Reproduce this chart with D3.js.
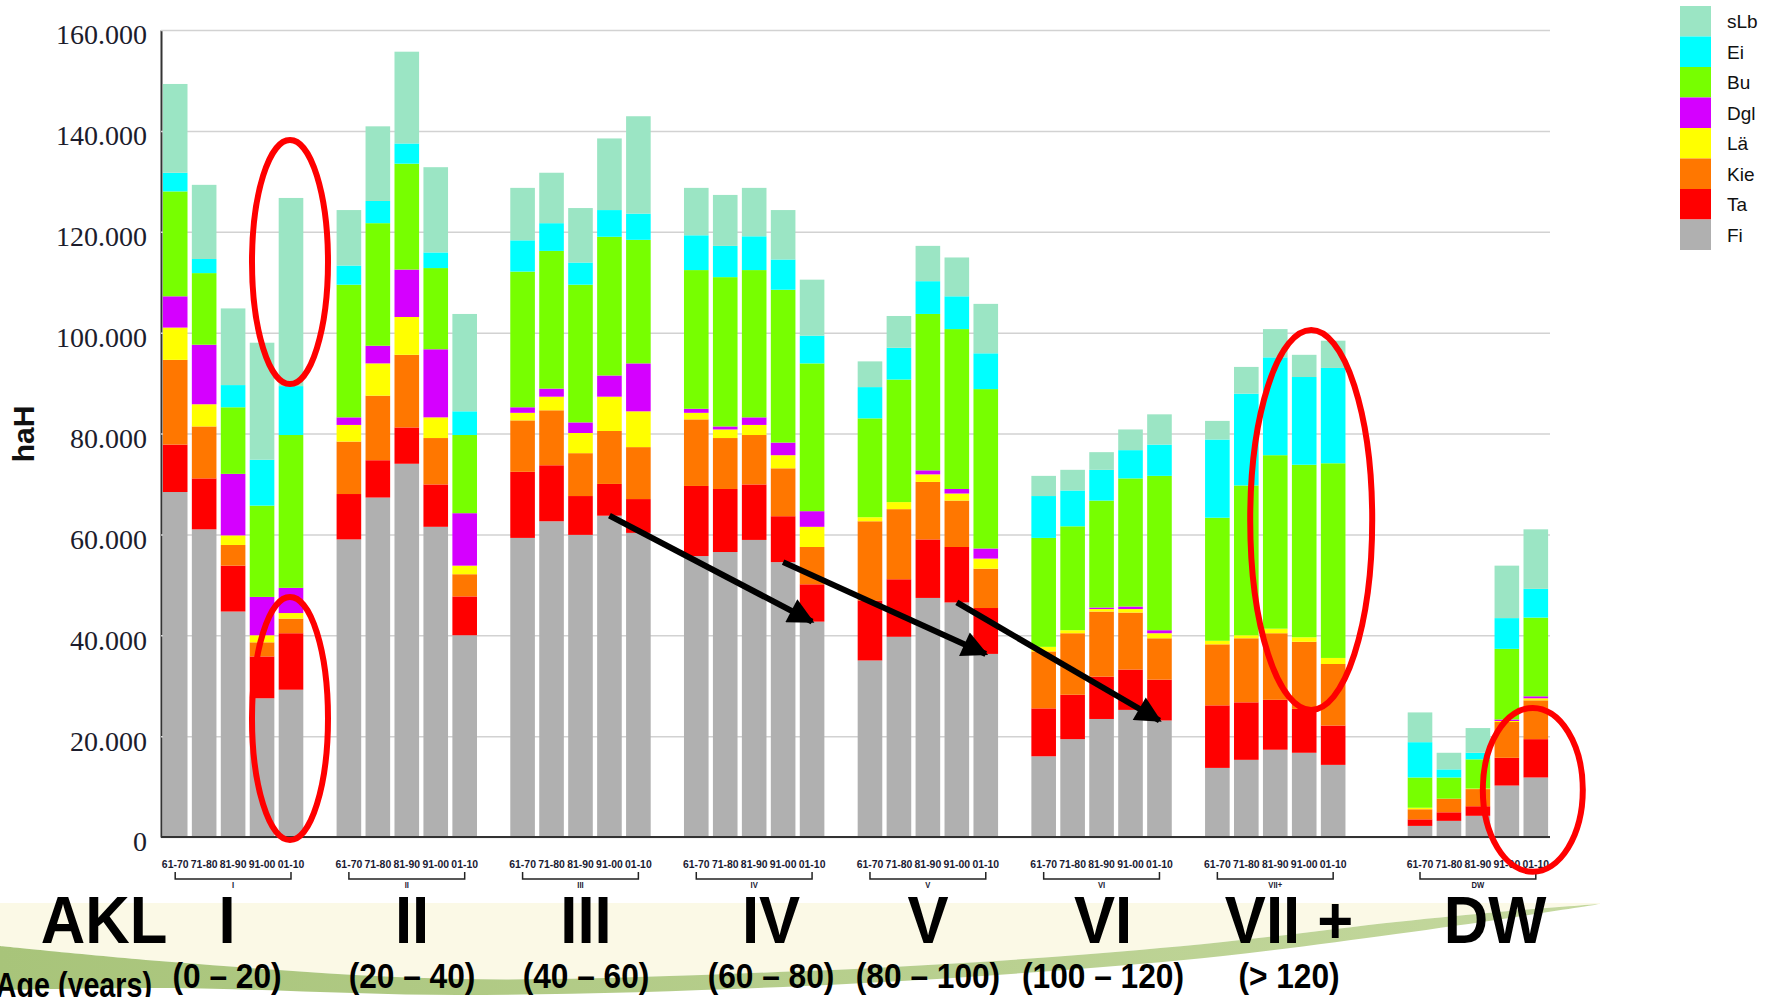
<!DOCTYPE html>
<html lang="de">
<head>
<meta charset="utf-8">
<script src="https://d3js.org/d3.v7.min.js"></script>
<style>
  body { margin: 0; background: #fff; }
  svg { display: block; }
  .narrow { font-family: "Liberation Sans", Arial, sans-serif; font-weight: bold; }
</style>
<title>AKL Baumarten</title>
</head>
<body>
<script>
// Altersklassen, Zeiträume, Baumarten
var classes = ["I", "II", "III", "IV", "V", "VI", "VII+", "DW"];
var periods = ["61-70", "71-80", "81-90", "91-00", "01-10"];
var species = ["Fi", "Ta", "Kie", "Lä", "Dgl", "Bu", "Ei", "sLb"];
var colors  = ["#b0b0b0", "#ff0000", "#ff7700", "#ffff00", "#d500ff", "#77ff00", "#00ffff", "#9be5c4"];

// Fläche in 1000 ha, je Altersklasse 5 Zeiträume (61-70 ... 01-10)
var fi  = [68.4, 61.0, 44.7, 27.5, 29.2,  59.0, 67.3, 74.0, 61.5, 40.0,  59.3, 62.6, 59.9, 63.7, 60.3,  55.7, 56.5, 58.9, 54.5, 42.7,
           35.0, 39.7, 47.4, 46.5, 36.3,  16.0, 19.4, 23.4, 25.2, 23.1,  13.7, 15.3, 17.3, 16.7, 14.3,   2.2,  3.2,  4.2, 10.2, 11.8];
var ta  = [ 9.4, 10.1,  9.1,  8.3, 11.2,   9.0,  7.4,  7.2,  8.4,  7.7,  13.1, 11.1,  7.7,  6.3,  6.7,  13.9, 12.5, 11.0,  9.1,  7.4,
           11.9, 11.4, 11.6, 11.0,  9.1,   9.5,  8.8,  8.4,  8.0,  8.1,  12.4, 11.4,  9.9,  8.7,  7.8,   1.3,  1.7,  1.9,  5.5,  7.6];
var kie = [16.8, 10.3,  4.1,  2.8,  2.9,  10.4, 12.8, 14.4,  9.2,  4.4,  10.2, 10.9,  8.5, 10.5, 10.3,  13.2, 10.1,  9.8,  9.5,  7.4,
           15.7, 13.9, 11.4,  9.2,  7.8,  11.3, 12.2, 12.9, 11.3,  8.2,  12.1, 12.7, 13.2, 13.3, 12.2,   2.0,  2.7,  3.4,  7.1,  7.7];
var lae = [ 6.4,  4.4,  1.9,  1.4,  1.1,   3.3,  6.4,  7.5,  4.1,  1.7,   1.5,  2.7,  4.0,  6.8,  7.1,   1.3,  1.7,  2.0,  2.6,  4.0,
            0.8,  1.4,  1.5,  1.4,  2.0,   0.9,  0.6,  0.5,  0.7,  1.0,   0.7,  0.6,  0.9,  0.9,  1.2,   0.3,  0.0,  0.1,  0.2,  0.4];
var dgl = [ 6.2, 11.8, 12.2,  7.6,  5.0,   1.5,  3.5,  9.4, 13.5, 10.4,   1.1,  1.6,  2.1,  4.2,  9.5,   0.8,  0.6,  1.5,  2.5,  3.1,
            0.0,  0.0,  0.8,  0.9,  2.0,   0.0,  0.0,  0.3,  0.5,  0.6,   0.0,  0.0,  0.0,  0.0,  0.0,   0.0,  0.0,  0.0,  0.3,  0.4];
var bu  = [20.8, 14.2, 13.2, 18.1, 30.3,  26.3, 24.3, 21.0, 16.1, 15.5,  26.9, 27.3, 27.3, 27.5, 24.5,  27.5, 29.6, 29.2, 30.3, 29.3,
           19.6, 24.3, 31.0, 31.7, 31.6,  21.6, 20.6, 21.2, 25.4, 30.6,  24.4, 29.7, 34.4, 34.2, 38.6,   6.0,  4.2,  5.8, 14.0, 15.6];
var ei  = [ 3.7,  2.8,  4.4,  9.1,  9.7,   3.8,  4.4,  4.0,  3.1,  4.7,   6.2,  5.5,  4.4,  5.3,  5.2,   6.9,  6.2,  6.7,  6.0,  5.5,
            6.2,  6.3,  6.5,  6.5,  7.1,   8.3,  7.1,  6.1,  5.6,  6.2,  15.5, 18.2, 19.4, 17.4, 18.9,   7.0,  1.6,  1.3,  6.1,  5.7];
var slb = [17.6, 14.7, 15.2, 23.2, 37.3,  11.0, 14.8, 18.2, 16.9, 19.3,  10.4, 10.0, 10.8, 14.2, 19.3,   9.4, 10.1,  9.6,  9.8, 11.1,
            5.1,  6.3,  7.0,  7.7,  9.8,   4.0,  4.1,  3.5,  4.1,  6.0,   3.7,  5.3,  5.6,  4.4,  5.4,   5.9,  3.3,  4.9, 10.4, 11.8];

var yTicks = [0, 20000, 40000, 60000, 80000, 100000, 120000, 140000, 160000];

// Beschriftung unter dem Diagramm
var aklLabels = ["I", "II", "III", "IV", "V", "VI", "VII +", "DW"];
var ageLabels = ["(0 – 20)", "(20 – 40)", "(40 – 60)", "(60 – 80)", "(80 – 100)", "(100 – 120)", "(> 120)"];

// Markierungen: Ellipsen (Wertebereich) und Pfeile (Fi-Oberkante von -> nach)
var ellipses = [
  {cls: "I", period: "01-10", lo: 89800, hi: 138200, rx: 38, dx: -1},
  {cls: "I", period: "01-10", lo: -600, hi: 47600, rx: 38, dx: -1},
  {cls: "VII+", period: "91-00", lo: 25200, hi: 100500, rx: 61, dx: 7},
  {cls: "DW", period: "01-10", lo: -6900, hi: 25600, rx: 50, dx: -3}
];
var arrows = [
  [["III", "91-00"], ["IV", "01-10"]],
  [["IV", "91-00"], ["V", "01-10"]],
  [["V", "91-00"], ["VI", "01-10"]]
];

var W = 1777, H = 997;
var plotL = 161, plotR = 1550, plotT = 30, plotB = 837;

var svg = d3.select("body").append("svg")
  .attr("width", W)
  .attr("height", H);
var defs = svg.append("defs");

var byName = {Fi: fi, Ta: ta, "Kie": kie, "Lä": lae, Dgl: dgl, Bu: bu, Ei: ei, sLb: slb};
var color = d3.scaleOrdinal().domain(species).range(colors);

// eine Zeile je Balken; DW steht mit einem Leerplatz abgesetzt
var rows = [];
classes.forEach(function(c, ci) {
  periods.forEach(function(p, pi) {
    var k = ci * periods.length + pi;
    var r = {cls: c, period: p, slot: ci * (periods.length + 1) + pi + (c === "DW" ? 1 : 0)};
    species.forEach(function(s) { r[s] = byName[s][k] * 1000; });
    rows.push(r);
  });
});

var x = d3.scaleBand()
  .domain(d3.range(48))
  .range([160, 1551])
  .paddingInner(0.15)
  .paddingOuter(0.1);

var y = d3.scaleLinear()
  .domain([0, 160000])
  .range([plotB, plotT]);

function rowOf(c, p) {
  return rows.find(function(r) { return r.cls === c && r.period === p; });
}
function cx(r) { return x(r.slot) + x.bandwidth() / 2; }

// schmale fette Schrift: Liberation Sans horizontal gestaucht
function narrow(sel, fx, fy, squeeze) {
  sel.attr("class", "narrow")
    .attr("text-anchor", "middle")
    .attr("transform", function(d, i) {
      return "translate(" + fx(d, i) + "," + fy(d, i) + ") scale(" + squeeze + ",1)";
    });
  return sel;
}

// Hintergrund-Schwung unten
var topEdge = [[0, 946], [172, 962], [459, 979], [804, 971], [1052, 957], [1223, 942], [1396, 922], [1509, 911], [1600, 904]];
var botEdge = [[1600, 904], [1509, 918], [1396, 934], [1223, 956], [1052, 971], [804, 986], [459, 995], [172, 988], [0, 990]];
var edge = d3.line().curve(d3.curveCatmullRom);

svg.append("path")
  .attr("d", "M0,903L1600,903" + edge(topEdge.slice().reverse()).replace("M", "L") + "Z")
  .attr("fill", "#fbf9e6");

var grad = defs.append("linearGradient")
  .attr("id", "swoosh").attr("x1", 0).attr("x2", 1);
grad.append("stop").attr("offset", 0).attr("stop-color", "#a8c47a");
grad.append("stop").attr("offset", 1).attr("stop-color", "#c4d89e");

svg.append("path")
  .attr("d", edge(topEdge) + edge(botEdge).replace("M", "L") + "Z")
  .attr("fill", "url(#swoosh)");

// y-Achse mit Gitter
var fmt = d3.formatLocale({decimal: ",", thousands: ".", grouping: [3], currency: ["", " €"]}).format(",");

var gy = svg.append("g")
  .attr("transform", "translate(" + plotL + ",0)")
  .call(d3.axisLeft(y)
    .tickValues(yTicks)
    .tickSize(-(plotR - plotL))
    .tickSizeOuter(0)
    .tickPadding(14)
    .tickFormat(fmt));

gy.select(".domain").attr("stroke", "#333").attr("stroke-width", 2);
gy.selectAll(".tick line").attr("stroke", "#d2d2d2").attr("stroke-width", 1.5);
gy.selectAll(".tick text")
  .attr("y", 5)
  .attr("fill", "#1c1c2c")
  .style("font-family", "'Liberation Serif', serif")
  .style("font-size", "28px");

svg.append("text")
  .attr("transform", "translate(34,434) rotate(-90)")
  .attr("text-anchor", "middle")
  .style("font-family", "'Liberation Sans', Arial, sans-serif")
  .style("font-weight", "bold")
  .style("font-size", "30px")
  .attr("fill", "#111")
  .text("haH");

// gestapelte Balken
var layers = d3.stack().keys(species)(rows);

svg.append("g").selectAll("g")
  .data(layers)
  .enter().append("g")
  .attr("fill", function(d) { return color(d.key); })
  .selectAll("rect")
  .data(function(d) { return d; })
  .enter().append("rect")
  .attr("x", function(d) { return x(d.data.slot); })
  .attr("width", x.bandwidth())
  .attr("y", function(d) { return y(d[1]); })
  .attr("height", function(d) { return y(d[0]) - y(d[1]); });

svg.append("line")
  .attr("x1", plotL).attr("x2", plotR)
  .attr("y1", plotB).attr("y2", plotB)
  .attr("stroke", "#333").attr("stroke-width", 2);

// x-Beschriftung: Zeitraum je Balken, Klammer je Altersklasse
svg.append("g").selectAll("text")
  .data(rows)
  .enter().append("text")
  .call(narrow, cx, function() { return 868; }, 0.95)
  .style("font-size", "11px")
  .attr("fill", "#1a1a33")
  .text(function(d) { return d.period; });

function first(c) { return cx(rowOf(c, periods[0])); }
function last(c) { return cx(rowOf(c, periods[periods.length - 1])); }

var brackets = svg.append("g").selectAll("g")
  .data(classes)
  .enter().append("g");

brackets.append("path")
  .attr("d", function(c) { return "M" + first(c) + ",872V879H" + last(c) + "V872"; })
  .attr("fill", "none")
  .attr("stroke", "#222")
  .attr("stroke-width", 1.5);

brackets.append("text")
  .call(narrow, function(c) { return (first(c) + last(c)) / 2; }, function() { return 888; }, 0.85)
  .style("font-size", "9px")
  .attr("fill", "#1a1a33")
  .text(function(c) { return c; });

// Legende
var legend = svg.append("g").selectAll("g")
  .data(species.slice().reverse())
  .enter().append("g")
  .attr("transform", function(d, i) { return "translate(1680," + (6 + i * 30.5) + ")"; });

legend.append("rect")
  .attr("width", 31)
  .attr("height", 30.5)
  .attr("fill", function(d) { return color(d); });

legend.append("text")
  .attr("x", 47)
  .attr("y", 22)
  .style("font-family", "'Liberation Sans', Arial, sans-serif")
  .style("font-size", "19px")
  .attr("fill", "#111")
  .text(function(d) { return d; });

// große Beschriftung AKL / Alter
var labelX = [227, 412, 586, 771, 928, 1103, 1289, 1495];

svg.append("text")
  .datum("AKL")
  .call(narrow, function() { return 104; }, function() { return 943; }, 0.92)
  .style("font-size", "67px")
  .text("AKL");

svg.append("g").selectAll("text")
  .data(aklLabels)
  .enter().append("text")
  .call(narrow, function(d, i) { return labelX[i]; }, function() { return 943; }, 0.92)
  .style("font-size", "67px")
  .text(function(d) { return d; });

svg.append("g").selectAll("text")
  .data(ageLabels)
  .enter().append("text")
  .call(narrow, function(d, i) { return labelX[i]; }, function() { return 988; }, 0.88)
  .style("font-size", "36px")
  .text(function(d) { return d; });

svg.append("text")
  .datum("age")
  .call(narrow, function() { return 152; }, function() { return 997; }, 0.82)
  .attr("text-anchor", "end")
  .style("font-size", "35px")
  .text("Age (years)");

// rote Ellipsen
svg.append("g").selectAll("ellipse")
  .data(ellipses)
  .enter().append("ellipse")
  .attr("cx", function(d) { return cx(rowOf(d.cls, d.period)) + d.dx; })
  .attr("cy", function(d) { return (y(d.lo) + y(d.hi)) / 2; })
  .attr("rx", function(d) { return d.rx; })
  .attr("ry", function(d) { return (y(d.lo) - y(d.hi)) / 2; })
  .attr("fill", "none")
  .attr("stroke", "#ff0000")
  .attr("stroke-width", 6);

// schwarze Pfeile an der Fi-Oberkante
defs.append("marker")
  .attr("id", "head")
  .attr("viewBox", "0 0 10 10")
  .attr("refX", 9).attr("refY", 5)
  .attr("markerUnits", "userSpaceOnUse")
  .attr("markerWidth", 30).attr("markerHeight", 26)
  .attr("orient", "auto")
  .append("path")
  .attr("d", "M0,0L10,5L0,10Z")
  .attr("fill", "#000");

svg.append("g").selectAll("line")
  .data(arrows)
  .enter().append("line")
  .attr("x1", function(d) { return cx(rowOf(d[0][0], d[0][1])); })
  .attr("y1", function(d) { return y(rowOf(d[0][0], d[0][1]).Fi); })
  .attr("x2", function(d) { return cx(rowOf(d[1][0], d[1][1])); })
  .attr("y2", function(d) { return y(rowOf(d[1][0], d[1][1]).Fi); })
  .attr("stroke", "#000")
  .attr("stroke-width", 6)
  .attr("marker-end", "url(#head)");
</script>
</body>
</html>
